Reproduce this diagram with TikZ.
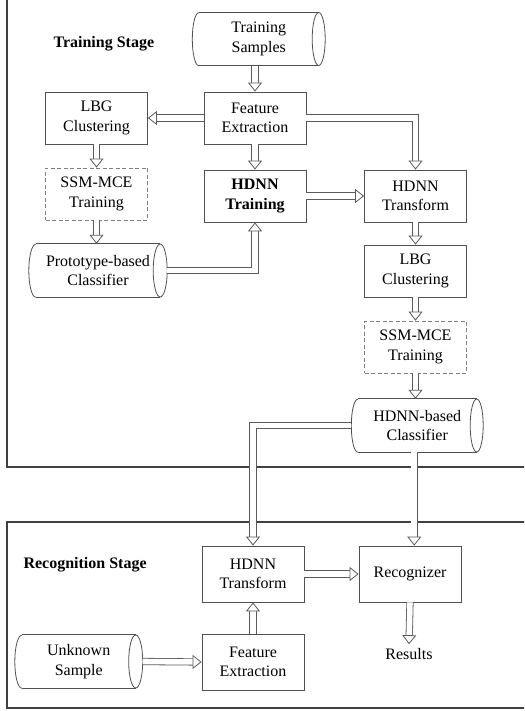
\documentclass[tikz,border=0pt]{standalone}
\usepackage{fontspec}
\setmainfont{Liberation Serif}
\usetikzlibrary{arrows.meta}
\definecolor{bgray}{HTML}{505050}
\definecolor{agray}{HTML}{5A5A5A}
\definecolor{fgray}{HTML}{404040}
\definecolor{dgray}{HTML}{808080}
\newcommand\conn[1]{\draw[shaft] #1; \draw[head] #1;}
\newcommand\cylshape[2]{%
  \draw[bline] (#1.north west) -- (#1.north east) (#1.south west) -- (#1.south east);
  \draw[bline] (#1.east) ellipse [x radius=#2pt, y radius=26.5pt];
  \draw[bline] (#1.south west) arc [start angle=270, end angle=90, x radius=#2pt, y radius=26.5pt];
}
\begin{document}
\begin{tikzpicture}[x=1pt,y=-1pt,
  txt/.style={font=\fontsize{16}{19.5}\selectfont, align=center},
  btxt/.style={font=\fontsize{16}{19.5}\selectfont\bfseries, align=center},
  box/.style={txt, draw=bgray, line width=0.8pt, minimum width=102pt, minimum height=52pt, inner sep=1pt},
  rbox/.style={box, minimum height=56pt},
  dbox/.style={box, draw=dgray, dash pattern=on 4pt off 2.5pt},
  cyl/.style={txt, minimum height=53pt, inner sep=0pt},
  bline/.style={draw=bgray, line width=0.8pt},
  frame/.style={draw=fgray, line width=1.4pt},
  shaft/.style={draw=agray, line width=0.8pt, double=white, double distance=5.6pt, shorten >=8.6pt},
  head/.style={draw=white, line width=0.8pt, -{Triangle[width=14pt, length=9pt, color=agray, fill=white, line width=0.8pt]}},
]
\clip (0,0) rectangle (524,711);
% frames
\draw[frame] (7,-5) -- (7,467) -- (530,467);
\draw[frame] (530,522) -- (7,522) -- (7,708) -- (530,708);
% stage labels
\node[btxt, anchor=west] (tst) at (50,44) {Training Stage};
\node[btxt, anchor=west] (rst) at (20,565) {Recognition Stage};
% training nodes
\node[cyl, minimum width=119.5pt] (ts) at (258.75,39) {Training\\Samples};
\cylshape{ts}{6.5}
\node[box] (fe) at (255,118) {Feature\\Extraction};
\node[box] (lbg1) at (96.5,118) {LBG\\Clustering};
\node[dbox] (ssm1) at (96.5,194) {SSM-MCE\\Training};
\node[box, btxt] (htr) at (255,196) {HDNN\\Training};
\node[box] (htf) at (415.5,196) {HDNN\\Transform};
\node[cyl, minimum width=124pt] (pc) at (98,270.5) {Prototype-based\\Classifier};
\cylshape{pc}{7}
\node[box] (lbg2) at (415.5,271) {LBG\\Clustering};
\node[dbox] (ssm2) at (415.5,347) {SSM-MCE\\Training};
\node[cyl, minimum width=118.5pt] (hc) at (417.25,425.5) {HDNN-based\\Classifier};
\cylshape{hc}{6.5}
% recognition nodes
\node[rbox] (rt) at (253,574) {HDNN\\Transform};
\node[rbox] (rz) at (410,574) {Recognizer};
\node[rbox] (fe2) at (253,662) {Feature\\Extraction};
\node[cyl, minimum width=113.5pt] (us) at (78.75,661.5) {Unknown\\Sample};
\cylshape{us}{7}
\node[txt, inner sep=4pt] (res) at (409,654) {Results};
% connectors
\conn{(ts.south -| fe.north) -- (fe.north)}
\conn{(fe.west) -- (lbg1.east)}
\conn{(lbg1.south) -- (ssm1.north)}
\conn{(ssm1.south) -- (ssm1.south |- pc.north)}
\conn{(fe.south) -- (htr.north)}
\conn{(fe.east) -| (htf.north)}
\conn{(htr.east) -- (htf.west)}
\conn{([xshift=7pt]pc.east) -| (htr.south)}
\conn{(htf.south) -- (lbg2.north)}
\conn{(lbg2.south) -- (ssm2.north)}
\conn{(ssm2.south) -- (ssm2.south |- hc.north)}
\conn{([xshift=-6.5pt]hc.west) -| (rt.north)}
\conn{([xshift=-3pt]hc.south) -- ([xshift=-3pt]hc.south |- rz.north)}
\conn{(rt.east) -- (rz.west)}
\conn{(fe2.north) -- (rt.south)}
\conn{([xshift=7pt]us.east) -- (fe2.west)}
\conn{(rz.south) -- (res.north)}
\end{tikzpicture}
\end{document}
